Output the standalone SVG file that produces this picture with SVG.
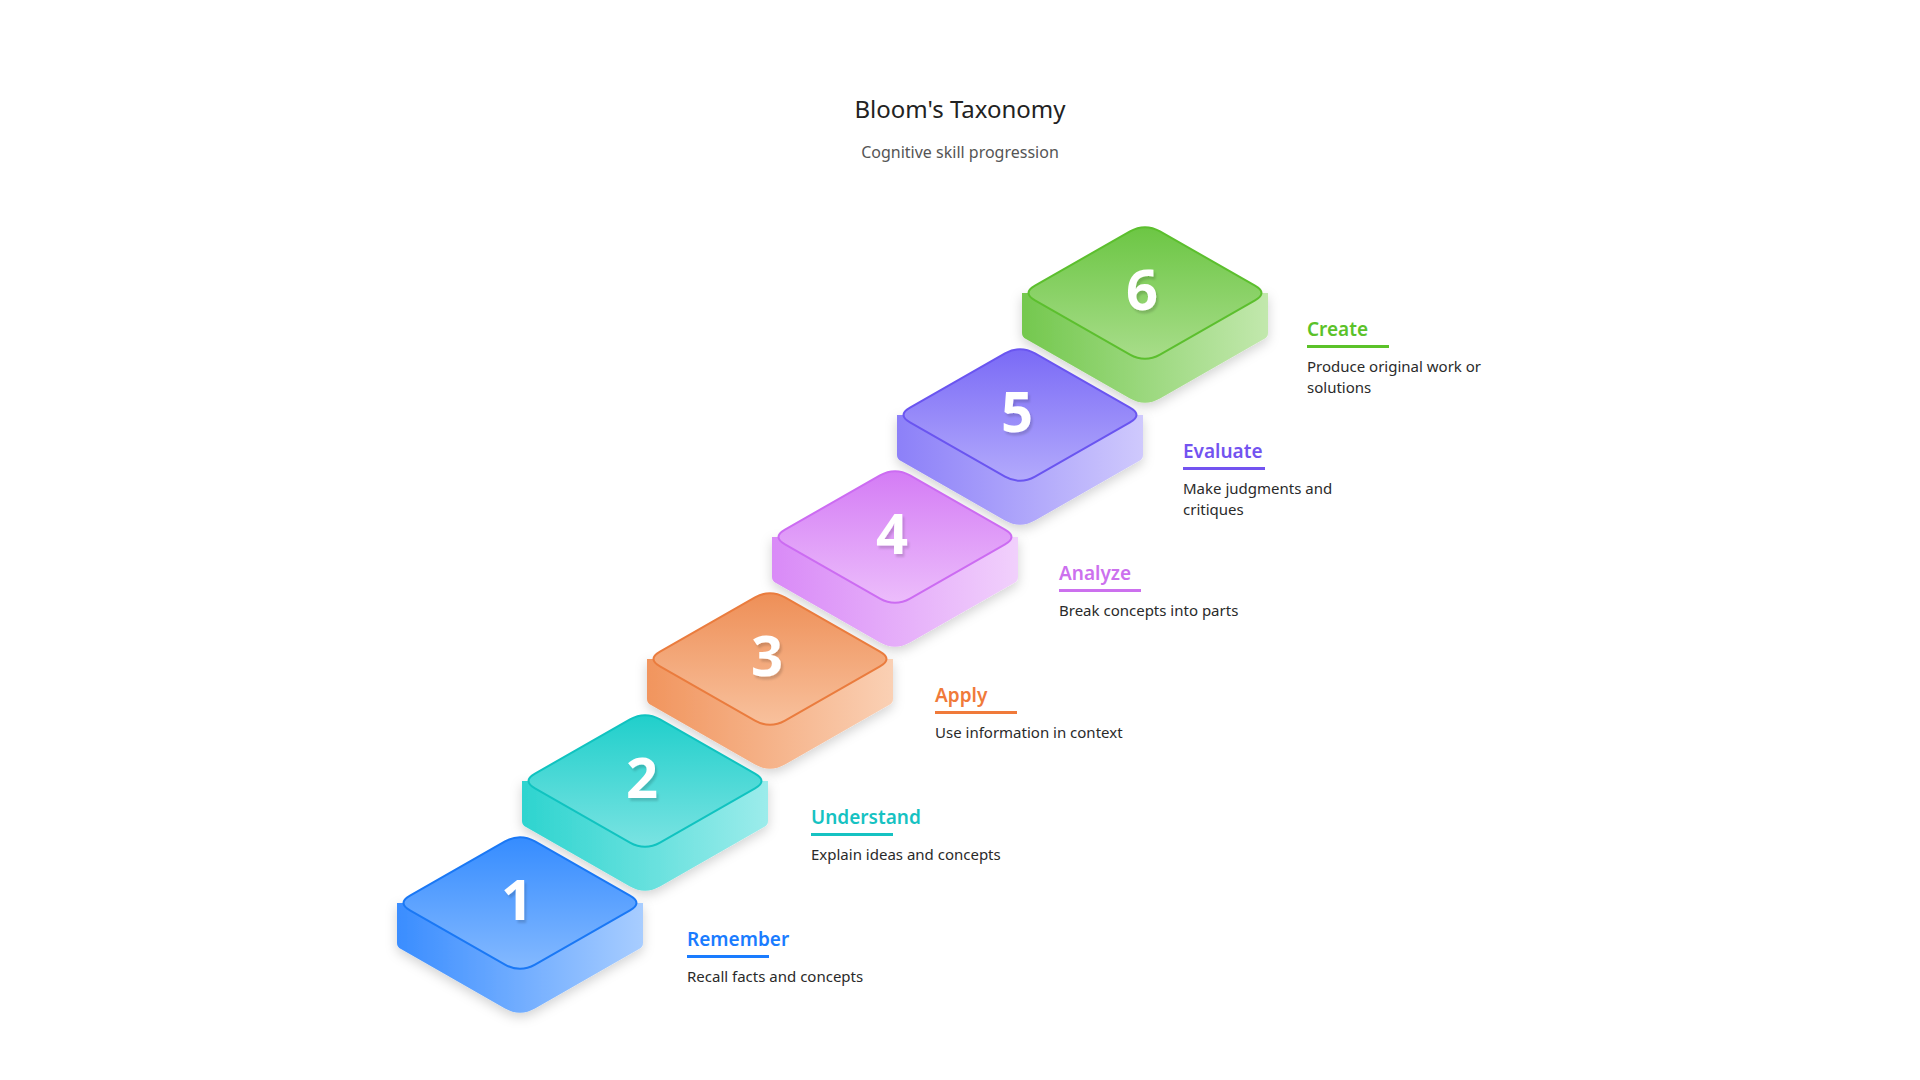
<svg xmlns="http://www.w3.org/2000/svg" width="1920" height="1080" viewBox="0 0 1920 1080">
<style>
.t{font-family:"Noto Sans","Open Sans",sans-serif}
.num{font-family:"Noto Sans","Open Sans",sans-serif;font-weight:700;font-size:56px;fill:#fff;text-anchor:middle;filter:url(#ts)}
.lab{font-family:"Noto Sans","Open Sans",sans-serif;font-weight:600;font-size:19px}
.desc{font-family:"Noto Sans","Open Sans",sans-serif;font-size:15px;fill:#2a2a2a}
</style>
<defs>
<filter id="sh" x="-20%" y="-20%" width="140%" height="150%"><feDropShadow dx="0" dy="4" stdDeviation="6" flood-color="#000" flood-opacity="0.18"/></filter>
<filter id="ts" x="-20%" y="-20%" width="140%" height="140%"><feDropShadow dx="2" dy="3" stdDeviation="1" flood-color="#000" flood-opacity="0.15"/></filter>
<path id="side" d="M-123,0 L-123,40 Q-123,44 -119,46 L-15,105.6 Q0,114 15,105.6 L119,46 Q123,44 123,40 L123,0 Z"/>
<path id="top" d="M-15,-61.6 Q0,-70 15,-61.6 L110,-7.4 Q123,0 110,7.4 L15,61.6 Q0,70 -15,61.6 L-110,7.4 Q-123,0 -110,-7.4 Z"/>
<linearGradient id="s1" x1="0" x2="1"><stop offset="0" stop-color="#3a8dff"/><stop offset="1" stop-color="#a8cdff"/></linearGradient>
<linearGradient id="f1" x1="0" y1="0" x2="0" y2="1"><stop offset="0" stop-color="#358cff"/><stop offset="1" stop-color="#84b9ff"/></linearGradient>
<linearGradient id="s2" x1="0" x2="1"><stop offset="0" stop-color="#2dd4cf"/><stop offset="1" stop-color="#9ceceb"/></linearGradient>
<linearGradient id="f2" x1="0" y1="0" x2="0" y2="1"><stop offset="0" stop-color="#20cfcb"/><stop offset="1" stop-color="#7ae3e2"/></linearGradient>
<linearGradient id="s3" x1="0" x2="1"><stop offset="0" stop-color="#f1955e"/><stop offset="1" stop-color="#fad0b4"/></linearGradient>
<linearGradient id="f3" x1="0" y1="0" x2="0" y2="1"><stop offset="0" stop-color="#ee8f57"/><stop offset="1" stop-color="#f8c19d"/></linearGradient>
<linearGradient id="s4" x1="0" x2="1"><stop offset="0" stop-color="#d98af7"/><stop offset="1" stop-color="#f1d0fc"/></linearGradient>
<linearGradient id="f4" x1="0" y1="0" x2="0" y2="1"><stop offset="0" stop-color="#d47cf5"/><stop offset="1" stop-color="#ecbdfb"/></linearGradient>
<linearGradient id="s5" x1="0" x2="1"><stop offset="0" stop-color="#8c80f8"/><stop offset="1" stop-color="#cfc9fd"/></linearGradient>
<linearGradient id="f5" x1="0" y1="0" x2="0" y2="1"><stop offset="0" stop-color="#7a6af6"/><stop offset="1" stop-color="#b3aafc"/></linearGradient>
<linearGradient id="s6" x1="0" x2="1"><stop offset="0" stop-color="#74c84e"/><stop offset="1" stop-color="#c2e8ad"/></linearGradient>
<linearGradient id="f6" x1="0" y1="0" x2="0" y2="1"><stop offset="0" stop-color="#6cc644"/><stop offset="1" stop-color="#a8dd8a"/></linearGradient>
</defs>
<rect width="1920" height="1080" fill="#fff"/>
<text class="t" x="960" y="118" text-anchor="middle" font-size="24" fill="#222">Bloom's Taxonomy</text>
<text class="t" x="960" y="158" text-anchor="middle" font-size="16" fill="#555">Cognitive skill progression</text>

<g id="step6" transform="translate(1145,293)">
<use href="#side" fill="url(#s6)" filter="url(#sh)"/><use href="#top" fill="url(#f6)" stroke="#5cbf2e" stroke-width="2"/>
<text class="num" x="-3" y="17">6</text></g>
<g id="step5" transform="translate(1020,415)">
<use href="#side" fill="url(#s5)" filter="url(#sh)"/><use href="#top" fill="url(#f5)" stroke="#6a55f0" stroke-width="2"/>
<text class="num" x="-3" y="17">5</text></g>
<g id="step4" transform="translate(895,537)">
<use href="#side" fill="url(#s4)" filter="url(#sh)"/><use href="#top" fill="url(#f4)" stroke="#cc6cf2" stroke-width="2"/>
<text class="num" x="-3" y="17">4</text></g>
<g id="step3" transform="translate(770,659)">
<use href="#side" fill="url(#s3)" filter="url(#sh)"/><use href="#top" fill="url(#f3)" stroke="#ea7c3e" stroke-width="2"/>
<text class="num" x="-3" y="17">3</text></g>
<g id="step2" transform="translate(645,781)">
<use href="#side" fill="url(#s2)" filter="url(#sh)"/><use href="#top" fill="url(#f2)" stroke="#10c3c0" stroke-width="2"/>
<text class="num" x="-3" y="17">2</text></g>
<g id="step1" transform="translate(520,903)">
<use href="#side" fill="url(#s1)" filter="url(#sh)"/><use href="#top" fill="url(#f1)" stroke="#1a78f5" stroke-width="2"/>
<text class="num" x="-3" y="17">1</text></g>

<g id="label1"><text class="lab" x="687" y="946" fill="#1a7cff">Remember</text><rect x="687" y="955" width="82" height="3" fill="#1a7cff"/><text class="desc" x="687" y="982">Recall facts and concepts</text></g>
<g id="label2"><text class="lab" x="811" y="824" fill="#16c2c2">Understand</text><rect x="811" y="833" width="82" height="3" fill="#16c2c2"/><text class="desc" x="811" y="860">Explain ideas and concepts</text></g>
<g id="label3"><text class="lab" x="935" y="702" fill="#f07a3a">Apply</text><rect x="935" y="711" width="82" height="3" fill="#f07a3a"/><text class="desc" x="935" y="738">Use information in context</text></g>
<g id="label4"><text class="lab" x="1059" y="580" fill="#cc70ee">Analyze</text><rect x="1059" y="589" width="82" height="3" fill="#cc70ee"/><text class="desc" x="1059" y="616">Break concepts into parts</text></g>
<g id="label5"><text class="lab" x="1183" y="458" fill="#7353f0">Evaluate</text><rect x="1183" y="467" width="82" height="3" fill="#7353f0"/><text class="desc" x="1183" y="494">Make judgments and</text><text class="desc" x="1183" y="515">critiques</text></g>
<g id="label6"><text class="lab" x="1307" y="336" fill="#5bc229">Create</text><rect x="1307" y="345" width="82" height="3" fill="#5bc229"/><text class="desc" x="1307" y="372">Produce original work or</text><text class="desc" x="1307" y="393">solutions</text></g>
<g id="connectors"/>
</svg>
